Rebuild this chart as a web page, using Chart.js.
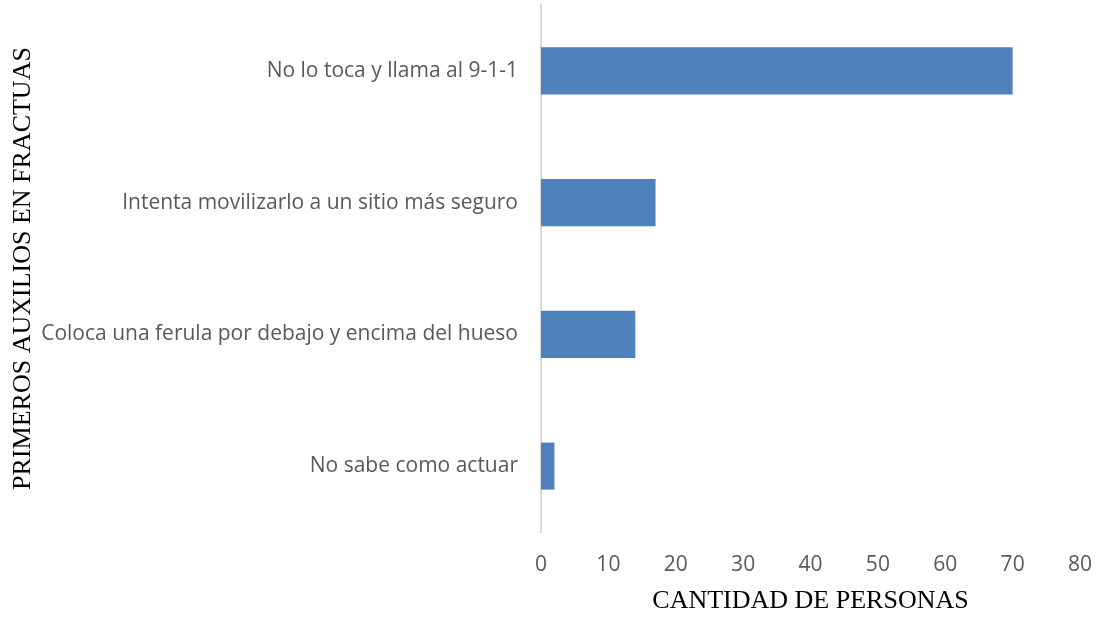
<!DOCTYPE html>
<html>
<head>
<meta charset="utf-8">
<script src="https://cdn.jsdelivr.net/npm/chart.js@4"></script>
<style>
  html, body { margin: 0; padding: 0; background: #fff; }
  #wrap { width: 1102px; height: 617px; }
</style>
</head>
<body>
<div id="wrap"><canvas id="chart"></canvas></div>
<script>
// data
const categories = [
    'No lo toca y llama al 9-1-1',
    'Intenta movilizarlo a un sitio más seguro',
    'Coloca una ferula por debajo y encima del hueso',
    'No sabe como actuar'
];
const personas = [70, 17, 14, 2];
const xTicks = [0, 10, 20, 30, 40, 50, 60, 70, 80];

const ctx = document.getElementById('chart').getContext('2d');

new Chart(ctx, {
    type: 'bar',
    data: {
        labels: categories,
        datasets: [{
            label: 'Cantidad de personas',
            data: personas,
            backgroundColor: '#4f81bd',
            borderWidth: 0,
            barPercentage: 0.357,
            categoryPercentage: 1
        }]
    },
    options: {
        indexAxis: 'y',
        responsive: true,
        maintainAspectRatio: false,
        animation: false,
        layout: { padding: { top: 5, right: 22, bottom: 0, left: 0 } },
        plugins: {
            legend: { display: false },
            tooltip: { enabled: false }
        },
        scales: {
            x: {
                min: 0,
                max: 80,
                afterBuildTicks: (scale) => { scale.ticks = xTicks.map(v => ({ value: v })); },
                afterFit: (scale) => {
                    scale.height = 85;
                    scale.paddingLeft = 0;
                    scale.paddingRight = 0;
                },
                grid: { display: false, drawTicks: false },
                border: { display: false },
                ticks: {
                    color: '#595959',
                    padding: 20,
                    font: { family: 'Open Sans', size: 21 }
                },
                title: {
                    display: true,
                    text: 'CANTIDAD DE PERSONAS',
                    color: '#000',
                    padding: { top: 0, bottom: 0 },
                    font: { family: 'Liberation Serif', size: 26 }
                }
            },
            y: {
                afterFit: (scale) => {
                    scale.width = 541;
                    // keep the plot top where the reference has it
                    scale.paddingTop = 0;
                    scale.paddingBottom = 0;
                },
                grid: { display: false, drawTicks: false },
                border: { display: true, color: '#d9d9d9', width: 2 },
                ticks: {
                    color: '#595959',
                    padding: 23,
                    font: { family: 'Open Sans', size: 21 }
                },
                title: {
                    display: true,
                    text: 'PRIMEROS AUXILIOS EN FRACTUAS',
                    color: '#000',
                    padding: { top: 8, bottom: 0 },
                    font: { family: 'Liberation Serif', size: 26 }
                }
            }
        }
    }
});
</script>
</body>
</html>
